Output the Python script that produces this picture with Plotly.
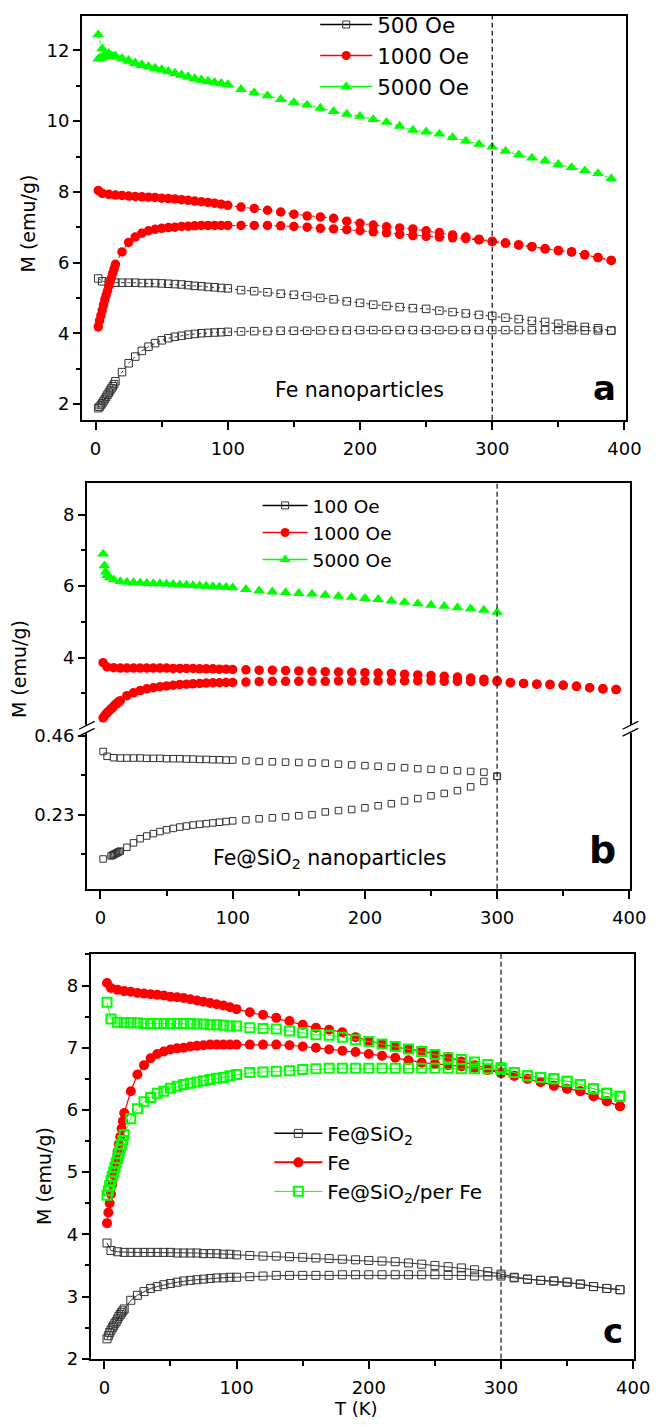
import plotly.graph_objects as go

W, H = 662, 1427
FONT = "DejaVu Sans, Arial, sans-serif"
ROOM_T = 300  # K, dashed reference line

# ---------------- temperature grids (K) ----------------
T_ZFC = [2, 3, 4, 5, 6, 7, 8, 9, 10, 11, 12, 13, 14, 15,
         20, 25, 30, 35, 40, 45, 50, 55, 60, 65, 70, 75, 80, 85, 90, 95, 100,
         110, 120, 130, 140, 150, 160, 170, 180, 190, 200, 210, 220, 230, 240,
         250, 260, 270, 280, 290, 300, 310, 320, 330, 340, 350, 360, 370, 380, 390]
T_FC = [2, 5, 10, 15, 20, 25, 30, 35, 40, 45, 50, 55, 60, 65, 70, 75, 80, 85, 90, 95, 100,
        110, 120, 130, 140, 150, 160, 170, 180, 190, 200, 210, 220, 230, 240,
        250, 260, 270, 280, 290, 300, 310, 320, 330, 340, 350, 360, 370, 380, 390]
T_FC_LOW = [2, 5, 10, 15, 20, 25, 30, 35, 40, 45, 50, 55, 60, 65, 70, 75, 80, 85, 90, 95, 100]

# ---------------- (a) Fe nanoparticles, M (emu/g) ----------------
FE_500_ZFC = [1.88, 1.92, 1.97, 2.02, 2.08, 2.14, 2.20, 2.26, 2.32, 2.38, 2.44, 2.50, 2.56, 2.64,
              2.90, 3.15, 3.34, 3.50, 3.62, 3.72, 3.80, 3.86, 3.90, 3.93, 3.96, 3.98, 4.00, 4.01, 4.02, 4.03, 4.04,
              4.05, 4.06, 4.06, 4.07, 4.07, 4.07, 4.08, 4.08, 4.08, 4.09, 4.09, 4.09, 4.09, 4.09, 4.09,
              4.09, 4.09, 4.09, 4.09, 4.09, 4.09, 4.09, 4.09, 4.09, 4.09, 4.09, 4.08, 4.08, 4.07]
FE_500_FC = [5.55, 5.47, 5.44, 5.43, 5.43, 5.43, 5.43, 5.42, 5.42, 5.42, 5.41, 5.40, 5.39, 5.38, 5.36,
             5.34, 5.33, 5.31, 5.30, 5.28, 5.27,
             5.22, 5.19, 5.16, 5.12, 5.09, 5.05, 5.00, 4.96, 4.90, 4.86, 4.81, 4.77, 4.74, 4.71,
             4.69, 4.64, 4.60, 4.56, 4.52, 4.49, 4.44, 4.40, 4.35, 4.32, 4.27, 4.22, 4.18, 4.14, 4.08]
FE_1000_ZFC = [4.18, 4.35, 4.50, 4.65, 4.80, 4.95, 5.08, 5.20, 5.33, 5.45, 5.57, 5.70, 5.82, 5.95,
               6.30, 6.57, 6.72, 6.83, 6.90, 6.94, 6.97, 6.99, 7.00, 7.02, 7.03, 7.04, 7.05, 7.05, 7.05, 7.05, 7.05,
               7.05, 7.05, 7.05, 7.04, 7.02, 7.00, 6.97, 6.95, 6.93, 6.90, 6.87, 6.84, 6.80, 6.76,
               6.74, 6.72, 6.70, 6.68, 6.64, 6.59, 6.55, 6.50, 6.45, 6.39, 6.34, 6.30, 6.22, 6.14, 6.06]
FE_1000_FC = [8.04, 7.96, 7.93, 7.91, 7.90, 7.88, 7.87, 7.86, 7.85, 7.84, 7.82, 7.81, 7.80, 7.78, 7.76,
              7.74, 7.72, 7.70, 7.68, 7.65, 7.62,
              7.57, 7.53, 7.48, 7.43, 7.37, 7.32, 7.29, 7.25, 7.17, 7.11, 7.06, 7.01, 6.98, 6.95,
              6.90, 6.85, 6.78, 6.72, 6.66, 6.60, 6.55, 6.50, 6.45, 6.39, 6.34, 6.30, 6.22, 6.14, 6.06]
FE_5000_ZFC = [11.76, 11.78, 11.80, 11.81, 11.82, 11.83, 11.84, 11.85, 11.85, 11.85, 11.84, 11.84, 11.83, 11.82,
               11.76, 11.70, 11.63, 11.58, 11.54, 11.50, 11.45, 11.40, 11.35, 11.30, 11.25, 11.20, 11.16,
               11.12, 11.09, 11.06, 11.03,
               10.90, 10.81, 10.72, 10.62, 10.53, 10.46, 10.37, 10.28, 10.20, 10.14, 10.05, 9.97, 9.86, 9.75,
               9.70, 9.64, 9.54, 9.44, 9.35, 9.27, 9.15, 9.05, 8.96, 8.88, 8.78, 8.69, 8.60, 8.52, 8.38]
FE_5000_FC = [12.45, 12.05, 11.92, 11.85, 11.78, 11.72, 11.65, 11.60, 11.55, 11.50, 11.46, 11.41, 11.36,
              11.31, 11.26, 11.21, 11.17, 11.13, 11.10, 11.07, 11.04]

# ---------------- (b) Fe@SiO2 nanoparticles, M (emu/g) ----------------
T_B100_ZFC = [2, 8, 9, 10, 11, 12, 13, 14, 15,
              20, 25, 30, 35, 40, 45, 50, 55, 60, 65, 70, 75, 80, 85, 90, 95, 100,
              110, 120, 130, 140, 150, 160, 170, 180, 190, 200, 210, 220, 230, 240,
              250, 260, 270, 280, 290, 300]
FS_100_ZFC = [0.101, 0.110, 0.112, 0.114, 0.116, 0.118, 0.120, 0.122, 0.124,
              0.135, 0.148, 0.160, 0.168, 0.175, 0.181, 0.186, 0.190, 0.194, 0.197, 0.200, 0.202,
              0.204, 0.206, 0.208, 0.210, 0.212,
              0.215, 0.218, 0.221, 0.224, 0.227, 0.230, 0.238, 0.242, 0.245, 0.250, 0.256, 0.262,
              0.270, 0.277, 0.285, 0.292, 0.300, 0.311, 0.327, 0.342]
T_B100_FC = [2, 5, 10, 15, 20, 25, 30, 35, 40, 45, 50, 55, 60, 65, 70, 75, 80, 85, 90, 95, 100,
             110, 120, 130, 140, 150, 160, 170, 180, 190, 200, 210, 220, 230, 240,
             250, 260, 270, 280, 290, 300]
FS_100_FC = [0.414, 0.400, 0.396, 0.395, 0.395, 0.395, 0.395, 0.394, 0.394, 0.394, 0.393, 0.393, 0.393,
             0.392, 0.392, 0.391, 0.391, 0.390, 0.390, 0.389, 0.389,
             0.387, 0.385, 0.384, 0.383, 0.382, 0.381, 0.380, 0.377, 0.375, 0.373, 0.371, 0.369,
             0.367, 0.364, 0.362, 0.360, 0.358, 0.356, 0.354, 0.342]
FS_1000_ZFC = [2.32, 2.37, 2.42, 2.46, 2.50, 2.53, 2.57, 2.60, 2.64, 2.68, 2.71, 2.74, 2.77, 2.80,
               2.94, 3.02, 3.08, 3.13, 3.16, 3.19, 3.21, 3.23, 3.25, 3.26, 3.27, 3.28, 3.29, 3.30, 3.30, 3.31, 3.31,
               3.32, 3.33, 3.34, 3.34, 3.34, 3.34, 3.34, 3.35, 3.35, 3.35, 3.35, 3.35, 3.35, 3.35,
               3.35, 3.34, 3.34, 3.33, 3.33, 3.33, 3.30, 3.28, 3.26, 3.25, 3.23, 3.20, 3.16, 3.13, 3.11]
FS_1000_FC = [3.86, 3.74, 3.72, 3.71, 3.71, 3.71, 3.71, 3.71, 3.71, 3.71, 3.71, 3.70, 3.70, 3.70, 3.70,
              3.69, 3.69, 3.69, 3.68, 3.68, 3.67,
              3.66, 3.65, 3.65, 3.64, 3.63, 3.62, 3.61, 3.60, 3.59, 3.58, 3.57, 3.56, 3.54, 3.52,
              3.50, 3.48, 3.46, 3.43, 3.40, 3.36, 3.31, 3.28, 3.26, 3.25, 3.23, 3.20, 3.16, 3.13, 3.11]
T_B5000 = [2, 3, 4, 5, 7, 10, 15,
           20, 25, 30, 35, 40, 45, 50, 55, 60, 65, 70, 75, 80, 85, 90, 95, 100,
           110, 120, 130, 140, 150, 160, 170, 180, 190, 200, 210, 220, 230, 240,
           250, 260, 270, 280, 290, 300]
FS_5000 = [6.90, 6.57, 6.40, 6.30, 6.24, 6.18, 6.13,
           6.11, 6.10, 6.09, 6.08, 6.07, 6.07, 6.06, 6.05, 6.04, 6.03, 6.02, 6.01, 6.00, 5.99, 5.98, 5.97, 5.96,
           5.91, 5.87, 5.84, 5.82, 5.80, 5.78, 5.75, 5.72, 5.69, 5.66, 5.63, 5.59, 5.55, 5.51,
           5.47, 5.44, 5.40, 5.37, 5.33, 5.27]

# ---------------- (c) Fe@SiO2 per Fe, M (emu/g) ----------------
FS_PER_FE_ZFC = [4.63, 4.70, 4.78, 4.86, 4.93, 5.00, 5.08, 5.15, 5.22, 5.30, 5.37, 5.44, 5.51, 5.60,
                 5.86, 6.02, 6.13, 6.20, 6.27, 6.30, 6.35, 6.38, 6.41, 6.43, 6.45, 6.47, 6.49, 6.51, 6.52, 6.55, 6.57,
                 6.60, 6.61, 6.62, 6.63, 6.65, 6.66, 6.67, 6.67, 6.67, 6.67, 6.67, 6.67, 6.67, 6.67,
                 6.67, 6.67, 6.66, 6.66, 6.66, 6.65, 6.60, 6.55, 6.52, 6.50, 6.46, 6.41, 6.34, 6.27, 6.22]
FS_PER_FE_FC = [7.73, 7.46, 7.41, 7.40, 7.40, 7.40, 7.39, 7.39, 7.39, 7.39, 7.39, 7.39, 7.39, 7.39, 7.38,
                7.38, 7.37, 7.37, 7.36, 7.35, 7.35,
                7.32, 7.31, 7.30, 7.27, 7.24, 7.21, 7.20, 7.17, 7.13, 7.10, 7.06, 7.02, 6.98, 6.94,
                6.89, 6.84, 6.81, 6.77, 6.73, 6.68, 6.60, 6.55, 6.52, 6.50, 6.46, 6.41, 6.34, 6.27, 6.22]

# ---------------- helpers ----------------
def fx(p):
    return p / W


def fy(p):
    return 1 - p / H


BLACK = "#333333"
RED = "#ff0000"
GREEN = "#00ff00"

fig = go.Figure()


def branch(x, y, xa, ya, marker, line=None):
    fig.add_trace(go.Scatter(
        x=x, y=y, xaxis=xa, yaxis=ya,
        mode="lines+markers" if line else "markers",
        marker=marker, line=line or {}, showlegend=False, hoverinfo="skip"))


def key(name, legend, xa, ya, marker, line):
    fig.add_trace(go.Scatter(
        x=[None], y=[None], xaxis=xa, yaxis=ya, mode="lines+markers",
        name=name, legend=legend, marker=marker, line=line, hoverinfo="skip"))


def sq_open(size, color, width):
    return dict(symbol="square-open", size=size, color=color, line=dict(width=width, color=color))


def filled(symbol, size, color):
    return dict(symbol=symbol, size=size, color=color, line=dict(width=0))


# ---- panel (a) ----
dot = lambda c: dict(color=c, width=1, dash="dot")
branch(T_ZFC, FE_500_ZFC, "x", "y", sq_open(7.5, BLACK, 1), dot(BLACK))
branch(T_FC, FE_500_FC, "x", "y", sq_open(7.5, BLACK, 1), dot(BLACK))
branch(T_ZFC, FE_1000_ZFC, "x", "y", filled("circle", 9.5, RED), dot(RED))
branch(T_FC, FE_1000_FC, "x", "y", filled("circle", 9.5, RED), dot(RED))
branch(T_ZFC, FE_5000_ZFC, "x", "y", filled("triangle-up", 10.5, GREEN), dot(GREEN))
branch(T_FC_LOW, FE_5000_FC, "x", "y", filled("triangle-up", 10.5, GREEN), dot(GREEN))
key("500 Oe", "legend", "x", "y", sq_open(7, BLACK, 1), dict(color="black", width=1.5))
key("1000 Oe", "legend", "x", "y", filled("circle", 9, RED), dict(color=RED, width=1.5))
key("5000 Oe", "legend", "x", "y", filled("triangle-up", 10, GREEN), dict(color=GREEN, width=1.5))

# ---- panel (b): lower axis y2 (100 Oe), upper axis y3 ----
branch(T_B100_ZFC, FS_100_ZFC, "x2", "y2", sq_open(6.5, BLACK, 1))
branch(T_B100_FC, FS_100_FC, "x2", "y2", sq_open(6.5, BLACK, 1))
branch(T_ZFC, FS_1000_ZFC, "x3", "y3", filled("circle", 9.5, RED))
branch(T_FC, FS_1000_FC, "x3", "y3", filled("circle", 9.5, RED))
branch(T_B5000, FS_5000, "x3", "y3", filled("triangle-up", 10.5, GREEN))
key("100 Oe", "legend2", "x3", "y3", sq_open(7, BLACK, 1), dict(color="black", width=1.5))
key("1000 Oe", "legend2", "x3", "y3", filled("circle", 9, RED), dict(color=RED, width=1.5))
key("5000 Oe", "legend2", "x3", "y3", filled("triangle-up", 10, GREEN), dict(color=GREEN, width=1.5))

# ---- panel (c) ----
solid = lambda c, w: dict(color=c, width=w)
branch(T_ZFC, FS_1000_ZFC, "x4", "y4", sq_open(8, BLACK, 1), solid(BLACK, 1))
branch(T_FC, FS_1000_FC, "x4", "y4", sq_open(8, BLACK, 1), solid(BLACK, 1))
branch(T_ZFC, FE_1000_ZFC, "x4", "y4", filled("circle", 10, RED), solid(RED, 1.2))
branch(T_FC, FE_1000_FC, "x4", "y4", filled("circle", 10, RED), solid(RED, 1.2))
branch(T_ZFC, FS_PER_FE_ZFC, "x4", "y4", sq_open(9, GREEN, 2), solid(GREEN, 0.8))
branch(T_FC, FS_PER_FE_FC, "x4", "y4", sq_open(9, GREEN, 2), solid(GREEN, 0.8))
key("Fe@SiO<sub>2</sub>", "legend3", "x4", "y4", sq_open(8, BLACK, 1), dict(color="black", width=1.5))
key("Fe", "legend3", "x4", "y4", filled("circle", 10, RED), dict(color=RED, width=2))
key("Fe@SiO<sub>2</sub>/per Fe", "legend3", "x4", "y4", sq_open(9, GREEN, 2), dict(color=GREEN, width=1))

# ---------------- axes ----------------
TICKFONT = dict(family=FONT, size=18, color="black")
X_RANGE = [-10.3, 400.8]


def x_axis(left, right, anchor, mirror):
    return dict(domain=[fx(left), fx(right)], anchor=anchor, range=X_RANGE,
                showline=True, linecolor="black", linewidth=1.8, mirror=mirror,
                ticks="outside", ticklen=8, tickwidth=1.5, tickcolor="black",
                tick0=0, dtick=100, tickfont=TICKFONT, ticklabelstandoff=4,
                minor=dict(ticks="outside", tick0=0, dtick=50, ticklen=5, tickwidth=1.5, tickcolor="black"),
                showgrid=False, zeroline=False)


def y_axis(top, bottom, anchor, rng, **kw):
    d = dict(domain=[fy(bottom), fy(top)], anchor=anchor, range=rng,
             showline=True, linecolor="black", linewidth=1.8, mirror=True,
             ticks="outside", ticklen=7, tickwidth=1.5, tickcolor="black",
             tickfont=TICKFONT, showgrid=False, zeroline=False)
    d.update(kw)
    return d


MINOR_Y = lambda **m: dict(ticks="outside", ticklen=4, tickwidth=1.5, tickcolor="black", **m)

layout = dict(
    width=W, height=H, autosize=False,
    margin=dict(l=0, r=0, t=0, b=0, pad=0),
    paper_bgcolor="white", plot_bgcolor="white",
    font=dict(family=FONT, color="black"),
    hovermode=False,
    xaxis=x_axis(84, 641, "y", True),
    yaxis=y_axis(8, 417, "x", [1.553, 12.978], tick0=0, dtick=2, minor=MINOR_Y(tick0=0, dtick=1)),
    xaxis2=x_axis(89, 646, "y2", False),
    yaxis2=y_axis(734, 892, "x2", [0.0144, 0.4686], tickvals=[0.23, 0.46], ticktext=["0.23", "0.46"],
                  minor=MINOR_Y(tickvals=[0.115, 0.345])),
    xaxis3=dict(domain=[fx(89), fx(646)], anchor="y3", range=X_RANGE, matches="x2", side="top",
                showline=True, linecolor="black", linewidth=1.8, ticks="", showticklabels=False,
                showgrid=False, zeroline=False),
    yaxis3=y_axis(481, 726, "x3", [2.124, 8.883], tick0=0, dtick=2, minor=MINOR_Y(tick0=0, dtick=1)),
    xaxis4=x_axis(93, 650, "y4", True),
    yaxis4=y_axis(958, 1368, "x4", [2, 8.508], tick0=0, dtick=1, minor=MINOR_Y(tick0=0, dtick=0.5)),
    legend=dict(x=fx(323), y=fy(-4), xanchor="left", yanchor="top", itemwidth=52,
                font=dict(family=FONT, size=21.5, color="black"), bgcolor="rgba(0,0,0,0)",
                borderwidth=0, tracegroupgap=0),
    legend2=dict(x=fx(264), y=fy(485), xanchor="left", yanchor="top", itemwidth=45,
                 font=dict(family=FONT, size=18.5, color="black"), bgcolor="rgba(0,0,0,0)",
                 borderwidth=0, tracegroupgap=0),
    legend3=dict(x=fx(276), y=fy(1120), xanchor="left", yanchor="top", itemwidth=48,
                 font=dict(family=FONT, size=20, color="black"), bgcolor="rgba(0,0,0,0)",
                 borderwidth=0, tracegroupgap=0),
)
fig.update_layout(**layout)

# ---------------- reference lines and axis-break marks ----------------
dash_line = dict(color="#222222", width=1.3, dash="5px,3px")
fig.add_shape(type="line", xref="x", yref="y domain", x0=ROOM_T, x1=ROOM_T, y0=0, y1=1, line=dash_line)
fig.add_shape(type="line", xref="x2", yref="paper", x0=ROOM_T, x1=ROOM_T, y0=fy(892), y1=fy(481), line=dash_line)
fig.add_shape(type="line", xref="x4", yref="y4 domain", x0=ROOM_T, x1=ROOM_T, y0=0, y1=1, line=dash_line)

brk = dict(color="black", width=1.3)
for xc in (89, 646):
    for dy in (-3.5, 3.5):
        fig.add_shape(type="line", xref="paper", yref="paper",
                      x0=fx(xc - 8), x1=fx(xc + 8), y0=fy(730 + dy + 4), y1=fy(730 + dy - 4), line=brk)

# ---------------- text ----------------
def note(text, x, y, size, xanchor="left", angle=0):
    fig.add_annotation(text=text, x=fx(x), y=fy(y), xref="paper", yref="paper",
                       xanchor=xanchor, yanchor="middle", showarrow=False, textangle=angle,
                       borderpad=0, font=dict(family=FONT, size=size, color="black"))


note("Fe nanoparticles", 281, 387, 20.5)
note("Fe@SiO<sub>2</sub> nanoparticles", 217, 862, 20.5)
note("<b>a</b>", 619, 385, 34, "center")
note("<b>b</b>", 617, 853, 38, "center")
note("<b>c</b>", 628, 1340, 34, "center")
note("M (emu/g)", 29, 218, 19, "center", -90)
note("M (emu/g)", 19, 670, 19, "center", -90)
note("M (emu/g)", 45, 1183, 19, "center", -90)
note("T (K)", 365, 1418, 18, "center")

fig.write_html("out.html")
